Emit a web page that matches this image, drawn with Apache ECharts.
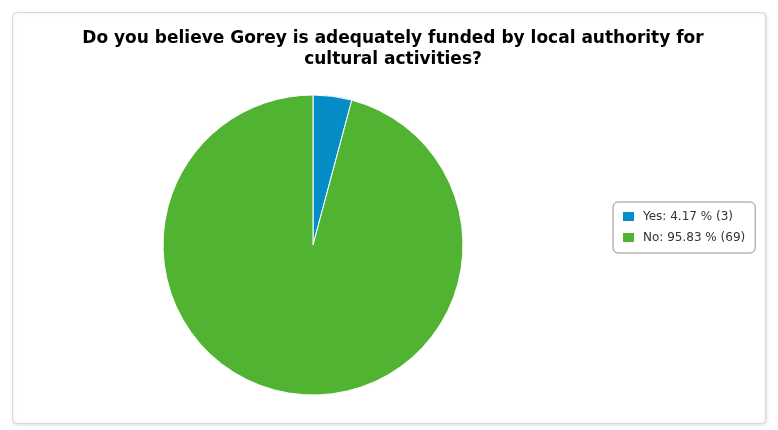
<!DOCTYPE html>
<html>
<head>
<meta charset="utf-8">
<script src="https://cdn.jsdelivr.net/npm/echarts@6/dist/echarts.min.js"></script>
<style>
html,body{margin:0;padding:0;background:#fff;}
#chart{width:778px;height:430px;}
</style>
</head>
<body>
<div id="chart"></div>
<script>
const titleText = 'Do you believe Gorey is adequately funded by local authority for\ncultural activities?';
const categories = ['Yes', 'No'];
const counts = [3, 69];
const percents = ['4.17', '95.83'];
const colors = ['#058DC7', '#50B432'];

const chart = echarts.init(document.getElementById('chart'), null, {renderer: 'canvas'});
const data = categories.map((c, i) => ({name: c, value: counts[i], itemStyle: {color: colors[i]}}));
chart.setOption({
  animation: false,
  backgroundColor: '#fff',
  graphic: [{
    type: 'rect',
    shape: {x: 12.5, y: 12.5, width: 753, height: 411, r: 4},
    style: {fill: '#fff', stroke: '#d8d8d8', lineWidth: 1, shadowBlur: 3, shadowColor: 'rgba(0,0,0,0.12)', shadowOffsetX: 1, shadowOffsetY: 1},
    z: -10
  }],
  title: {
    text: titleText,
    left: 388,
    top: 23,
    textAlign: 'center',
    textStyle: {fontFamily: 'DejaVu Sans', fontWeight: 'bold', fontSize: 17, color: '#000', lineHeight: 21}
  },
  legend: {
    orient: 'vertical',
    left: 613,
    top: 202,
    padding: [8, 10, 9, 8],
    itemWidth: 13,
    itemHeight: 11,
    itemGap: 8,
    icon: 'rect',
    borderColor: '#909090',
    borderWidth: 1,
    borderRadius: 5,
    data: categories,
    formatter: function (name) {
      const i = categories.indexOf(name);
      return name + ': ' + percents[i] + ' % (' + counts[i] + ')';
    },
    textStyle: {fontFamily: 'DejaVu Sans', fontSize: 12, color: '#333', lineHeight: 11, padding: [0, 0, 0, 3]}
  },
  series: [{
    type: 'pie',
    center: [313, 245],
    radius: [0, 150],
    startAngle: 90,
    clockwise: true,
    label: {show: false},
    labelLine: {show: false},
    emphasis: {disabled: true},
    itemStyle: {borderColor: '#fff', borderWidth: 1},
    data: data
  }]
});
</script>
</body>
</html>
